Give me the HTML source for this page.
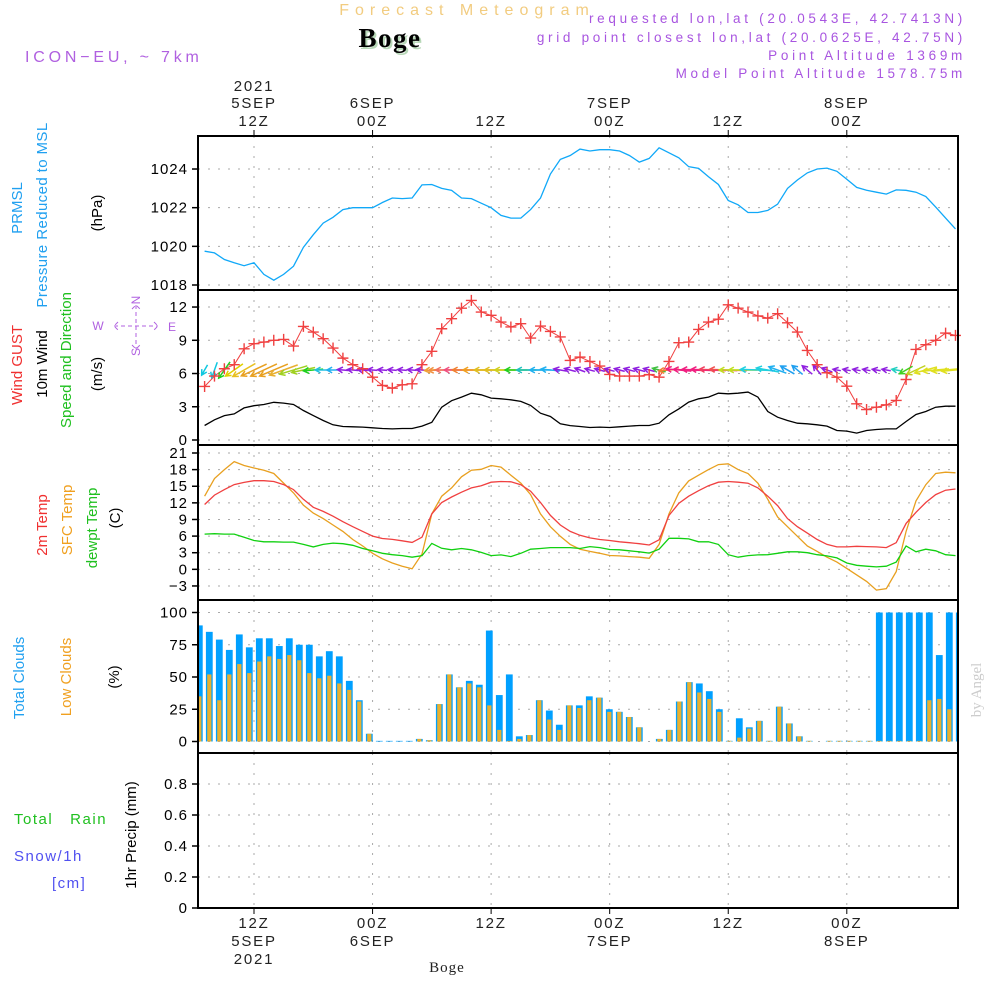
<!DOCTYPE html>
<html><head><meta charset="utf-8"><style>
html,body{margin:0;padding:0;background:#fff;width:1000px;height:1000px;overflow:hidden}
svg{display:block;font-family:"Liberation Sans",sans-serif}
</style></head><body>
<svg id="chart" width="1000" height="1000" viewBox="0 0 1000 1000" xmlns="http://www.w3.org/2000/svg">
<defs><clipPath id="plotclip"><rect x="198" y="290" width="760" height="155"/></clipPath></defs>
<text x="467" y="15" font-size="16" fill="#f2cc80" text-anchor="middle" letter-spacing="6">Forecast Meteogram</text>
<text x="392" y="49" font-family="Liberation Serif,serif" font-weight="bold" font-size="27" fill="#b8d8b8" text-anchor="middle" letter-spacing="1.5">Boge</text>
<text x="390" y="47" font-family="Liberation Serif,serif" font-weight="bold" font-size="27" fill="#000" text-anchor="middle" letter-spacing="1.5">Boge</text>
<text x="25" y="62" font-size="16" fill="#b060e0" letter-spacing="3.8">ICON−EU, ~ 7km</text>
<g font-size="13.5" fill="#a855e0" text-anchor="end" letter-spacing="3.7">
<text x="966" y="23">requested lon,lat (20.0543E, 42.7413N)</text>
<text x="966" y="42">grid point closest lon,lat (20.0625E, 42.75N)</text>
<text x="966" y="60">Point Altitude 1369m</text>
<text x="966" y="78">Model Point Altitude 1578.75m</text>
</g>
<g font-size="15">
<text transform="translate(22,208) rotate(-90)" text-anchor="middle" fill="#20a0f0">PRMSL</text>
<text transform="translate(47,215) rotate(-90)" text-anchor="middle" fill="#20a0f0" letter-spacing="0.4">Pressure Reduced to MSL</text>
<text transform="translate(102,213) rotate(-90)" text-anchor="middle" fill="#000">(hPa)</text>
<text transform="translate(22,365) rotate(-90)" text-anchor="middle" fill="#f03030">Wind GUST</text>
<text transform="translate(47,364) rotate(-90)" text-anchor="middle" fill="#000">10m Wind</text>
<text transform="translate(71,360) rotate(-90)" text-anchor="middle" fill="#20c020">Speed and Direction</text>
<text transform="translate(102,374) rotate(-90)" text-anchor="middle" fill="#000">(m/s)</text>
<text transform="translate(47,525) rotate(-90)" text-anchor="middle" fill="#f03030">2m Temp</text>
<text transform="translate(72,520) rotate(-90)" text-anchor="middle" fill="#f0a020">SFC Temp</text>
<text transform="translate(97,528) rotate(-90)" text-anchor="middle" fill="#20c020">dewpt Temp</text>
<text transform="translate(120,518) rotate(-90)" text-anchor="middle" fill="#000">(C)</text>
<text transform="translate(24,678) rotate(-90)" text-anchor="middle" fill="#20a0f0">Total Clouds</text>
<text transform="translate(71,677) rotate(-90)" text-anchor="middle" fill="#f0a020">Low Clouds</text>
<text transform="translate(119,677) rotate(-90)" text-anchor="middle" fill="#000">(%)</text>
<text transform="translate(136,835) rotate(-90)" text-anchor="middle" fill="#000">1hr Precip (mm)</text>
<text x="14" y="824" fill="#20c020" letter-spacing="1.5">Total&#160;&#160;&#160;Rain</text>
<text x="14" y="861" fill="#5050f0" letter-spacing="1.5">Snow/1h</text>
<text x="52" y="888" fill="#5050f0" letter-spacing="1.5">[cm]</text>
</g>
<g fill="#b060e0" font-size="12" text-anchor="middle">
<text transform="translate(140,300) rotate(-90)">N</text><text transform="translate(140,352) rotate(-90)">S</text><text x="98" y="330">W</text><text x="172" y="331">E</text>
<path d="M136 305V349M114 326H158M118 322L114 326L118 330M154 322L158 326L154 330M132 309L136 305L140 309M132 345L136 349L140 345" stroke="#b060e0" stroke-dasharray="4 3" fill="none"/>
</g>
<text transform="translate(981,690) rotate(-90)" text-anchor="middle" font-family="Liberation Serif,serif" font-size="15" fill="#ccc">by Angel</text>
<text x="447" y="972" text-anchor="middle" font-family="Liberation Serif,serif" font-size="15" fill="#222" letter-spacing="1">Boge</text>
<g id="plot"></g>
</svg>
<script>
// ---------- data ----------
const hours = [];for(let h=7;h<=83;h++)hours.push(h);
const pressure=[1019.75,1019.66,1019.32,1019.15,1019.0,1019.15,1018.55,1018.25,1018.55,1018.97,1019.95,1020.6,1021.2,1021.5,1021.9,1022.0,1022.0,1022.0,1022.27,1022.5,1022.47,1022.5,1023.18,1023.2,1023.0,1022.9,1022.5,1022.47,1022.23,1022.0,1021.6,1021.46,1021.46,1021.9,1022.5,1023.74,1024.5,1024.7,1025.03,1024.93,1025.0,1025.0,1024.93,1024.7,1024.36,1024.55,1025.1,1024.84,1024.58,1024.12,1024.03,1023.6,1023.2,1022.37,1022.15,1021.75,1021.75,1021.86,1022.18,1023.0,1023.43,1023.8,1024.0,1024.05,1023.88,1023.47,1023.05,1022.9,1022.8,1022.7,1022.92,1022.9,1022.8,1022.58,1022.03,1021.46,1020.9];
const gust=[4.83,5.77,6.43,6.8,8.23,8.69,8.84,9.0,9.08,8.48,10.25,9.74,9.14,8.3,7.39,6.8,6.43,5.67,4.92,4.68,4.98,5.07,6.8,8.0,10.04,10.95,11.9,12.6,11.55,11.25,10.64,10.2,10.5,9.2,10.28,9.8,9.3,7.18,7.48,7.09,6.67,5.92,5.77,5.77,5.77,5.9,5.67,7.09,8.78,8.84,9.98,10.64,10.9,12.2,11.9,11.55,11.2,11.0,11.4,10.58,9.74,8.08,6.8,6.07,5.67,4.86,3.27,2.75,2.96,3.17,3.57,5.46,8.17,8.6,9.0,9.65,9.44];
const wind10=[1.31,1.82,2.2,2.36,2.9,3.1,3.2,3.4,3.33,3.2,2.66,2.2,1.76,1.37,1.22,1.19,1.16,1.1,1.04,1.0,1.04,1.04,1.25,1.6,2.96,3.55,3.87,4.22,4.08,3.78,3.72,3.63,3.48,3.12,2.42,2.12,1.46,1.3,1.22,1.13,1.16,1.13,1.19,1.25,1.31,1.31,1.52,2.27,2.81,3.42,3.72,3.87,4.22,4.17,4.22,4.32,3.87,2.57,2.06,1.76,1.52,1.46,1.37,1.25,0.86,0.8,0.62,0.86,0.95,1.0,1.0,1.67,2.3,2.57,2.96,3.05,3.05];
const windDir=[240,250,235,215,210,205,205,203,200,197,192,185,180,180,175,175,175,175,175,175,175,175,175,185,182,180,180,180,180,180,180,180,180,180,180,175,170,165,160,165,165,165,165,165,165,165,165,185,175,178,178,178,178,178,180,180,178,170,160,150,140,140,130,160,170,170,170,170,170,170,170,210,205,195,185,185,185];
const windColor=["#10c8e0","#10c8e0","#20d020","#e0d000","#e8c020","#e8a020","#e8a020","#e8a020","#e8b030","#a0d020","#a0d020","#20d020","#20c0e0","#20b0f0","#9020e0","#9020e0","#9020e0","#9020e0","#9020e0","#9020e0","#9020e0","#9020e0","#9020e0","#f0a030","#f09040","#f07060","#f05080","#f08030","#f0a020","#e0c020","#e0c020","#d0d020","#20d020","#20c0c0","#20b0f0","#20b0f0","#9020e0","#9020e0","#9020e0","#9020e0","#9020e0","#9020e0","#9020e0","#9020e0","#9020e0","#9020e0","#40c040","#f08030","#f02080","#f02080","#f02080","#f02080","#f04060","#f05050","#c0e020","#c0e020","#20d0e0","#20d0e0","#20b0f0","#20a0f0","#20a0f0","#9020e0","#9020e0","#9020e0","#9020e0","#9020e0","#9020e0","#9020e0","#9020e0","#9020e0","#20d0c0","#40d020","#c0d020","#e0e020","#e0e020","#e0e020","#e0e020"];
const temp2m=[11.7,13.4,14.4,15.3,15.7,16.0,16.0,15.85,15.3,14.4,12.65,11.2,10.45,9.6,8.6,7.7,6.85,6.0,5.56,5.4,5.15,4.86,5.8,10.0,12.07,13.06,13.93,14.7,15.1,15.73,15.85,15.8,15.27,14.1,12.07,9.74,8.0,6.84,6.14,5.67,5.38,5.2,4.98,4.8,4.63,4.4,5.33,9.74,11.9,13.2,14.2,15.1,15.73,15.85,15.73,15.55,14.7,13.2,11.5,9.16,7.7,6.55,5.38,4.5,4.05,4.05,4.16,4.1,4.05,3.93,4.8,8.3,10.3,12.07,13.5,14.28,14.5];
const tempSfc=[13.2,16.4,18.0,19.45,18.75,18.3,17.9,17.3,15.56,13.8,11.6,10.15,9.16,8.0,6.84,5.38,4.22,2.9,1.9,1.14,0.56,0.1,2.77,10.0,13.2,14.7,16.7,17.9,18.05,18.75,18.46,17.0,15.56,13.5,10.0,7.7,5.96,4.5,3.64,3.23,2.9,2.5,2.42,2.3,2.2,2.0,4.5,10.0,13.8,15.96,17.0,18.0,18.9,19.05,18.0,17.3,15.56,12.65,9.45,7.7,5.96,4.22,3.23,2.2,1.3,0.17,-1.0,-2.17,-3.74,-3.5,-0.4,6.84,12.36,15.27,17.3,17.53,17.42];
const dewpt=[6.37,6.43,6.37,6.37,5.8,5.2,4.98,4.98,4.92,4.92,4.5,4.05,4.5,4.74,4.63,4.34,3.76,3.35,2.9,2.65,2.48,2.2,2.48,4.69,3.8,3.52,3.76,3.52,3.06,2.48,2.6,2.3,2.9,3.64,3.76,3.93,3.93,3.93,3.76,4.1,3.93,3.58,3.52,3.35,3.17,2.94,3.64,5.6,5.6,5.5,4.98,4.98,4.5,2.65,2.2,2.48,2.6,2.65,2.9,3.17,3.17,3.0,2.65,2.42,2.07,1.14,0.73,0.56,0.44,0.56,1.3,4.22,3.17,3.64,3.35,2.65,2.48];
const totalClouds=[90,85,79,71,83,73,80,80,74,80,75,75,66,70,66,47,32,6,0.5,0.5,0.5,0.5,2,1,29,52,42,47,44,86,36,52,4,5,32,24,13,28,28,35,34,25,23,19,11,0,2,9,31,46,45,39,25,0.5,18,11,16,0.5,27,14,4,0.5,0,0.5,0.5,0.5,0.5,0.5,100,100,100,100,100,100,67,100,100];
const lowClouds=[35,52,32,52,60,53,62,66,64,67,63,53,49,51,45,40,31,6,0,0,0,0,2,1,29,52,42,45,42,28,9,0.5,2,5,32,17,9,28,26,32,34,23,23,19,11,0,2,9,31,46,38,33,23,0.5,3,10,16,0.5,27,14,4,0.5,0,0.5,0.5,0.5,0.5,0.5,0.5,0.5,0.5,0.5,0.5,32,33,25,14];
const pTicks=[1018,1020,1022,1024], wTicks=[0,3,6,9,12], tTicks=[-3,0,3,6,9,12,15,18,21], cTicks=[0,25,50,75,100], rTicks=[0,0.2,0.4,0.6,0.8];
const timeTicks=[12,24,36,48,60,72];
const dayLabels=["5SEP","6SEP","","7SEP","","8SEP"];
const hourLabels=["12Z","00Z","12Z","00Z","12Z","00Z"];
// ---------- scales ----------
const L=198,R=958;
const xH=h=>254+(h-12)*9.88;
const xBar=i=>199.3+10*i;
const yP=v=>285-(v-1018)*19.33;
const yW=v=>440-v*11.08;
const yT=v=>453+(21-v)*5.54;
const yC=v=>741.5-v*1.29;
const yR=v=>908-v*155;
const NS="http://www.w3.org/2000/svg";
const plot=document.getElementById('plot');
function mk(tag,attrs,parent){const e=document.createElementNS(NS,tag);for(const k in attrs)e.setAttribute(k,attrs[k]);(parent||plot).appendChild(e);return e;}
const panels=[[136,290,"pressure"],[290,445,"wind"],[445,600,"temperature"],[600,753,"clouds"],[753,908,"precip"]];
function grid(name,ticks,yf,top,bot,fmt){
  const g=mk('g',{});
  
  
  ticks.forEach(v=>{const y=yf(v);
    if(y>top+1&&y<bot-1){const gl=mk('line',{x1:L,x2:R,y1:y,y2:y,stroke:'#aaa','stroke-dasharray':'2 8'},g);
      
      }
    mk('line',{x1:L-6,x2:L,y1:y,y2:y,stroke:'#000','stroke-width':1.5},g);
    const t=mk('text',{x:L-10,y:y+5,'text-anchor':'end','font-size':15,fill:'#000','letter-spacing':1},g);
    
    
    t.textContent=fmt?fmt(v):String(v).replace('-','−');});
  timeTicks.forEach(h=>{const vl=mk('line',{x1:xH(h),x2:xH(h),y1:top,y2:bot,stroke:'#aaa','stroke-dasharray':'2 8'},g);
    
    });
}
grid('pressure',pTicks,yP,136,290);
grid('wind',wTicks,yW,290,445);
grid('temperature',tTicks,yT,445,600);
grid('clouds',cTicks,yC,600,753);
grid('precip',rTicks,yR,753,908,v=>v===0?'0':v.toFixed(1));
function line(arr,yf,color,name,w){const d=arr.map((v,i)=>(i?'L':'M')+xH(hours[i]).toFixed(1)+' '+yf(v).toFixed(1)).join('');
  const p=mk('path',{d:d,fill:'none',stroke:color,'stroke-width':w||1.3});
  
  }
// clouds
const cg=mk('g',{});


totalClouds.forEach((v,i)=>{const x=xBar(i);const x0=Math.max(L,x-3.4),x1=Math.min(R,x+3.4);if(x1<=x0)return;
  const b=mk('rect',{x:x0,y:yC(v),width:x1-x0,height:yC(0)-yC(v),fill:'#00a0ff'},cg);
  
  });
lowClouds.forEach((v,i)=>{const x=xBar(i);const x0=Math.max(L,x-2.1),x1=Math.min(R,x+2.1);if(x1<=x0)return;
  const b=mk('rect',{x:x0,y:yC(v),width:x1-x0,height:yC(0)-yC(v),fill:'#e8b030'},cg);
  
  });
line(pressure,yP,'#10a8f8','pressure-line');
line(wind10,yW,'#000','wind10-line');
line(gust,yW,'#f04040','gust-line',1);
// wind arrows
const ag=mk('g',{'clip-path':'url(#plotclip)'});


windDir.forEach((a,i)=>{const len=Math.max(8,wind10[i]*9);const r=a*Math.PI/180;const dx=Math.cos(r),dy=-Math.sin(r);
  const cx=xH(hours[i]),cy=370;const hx=cx+dx*len/2,hy=cy+dy*len/2,tx=cx-dx*len/2,ty=cy-dy*len/2;
  const ax=-dx,ay=-dy;const s=6,c=Math.cos(0.5),sn=Math.sin(0.5);
  const p1x=hx+s*(ax*c-ay*sn),p1y=hy+s*(ax*sn+ay*c),p2x=hx+s*(ax*c+ay*sn),p2y=hy+s*(-ax*sn+ay*c);
  const ar=mk('path',{d:`M${tx} ${ty}L${hx} ${hy}M${p1x} ${p1y}L${hx} ${hy}L${p2x} ${p2y}`,stroke:windColor[i],'stroke-width':1.5,fill:'none'},ag);
  
  });
// gust crosses
gust.forEach((v,i)=>{const x=xH(hours[i]),y=yW(v);
  const c=mk('path',{d:`M${x-5.5} ${y}H${x+5.5}M${x} ${y-5.5}V${y+5.5}`,stroke:'#f04040','stroke-width':1.4});
  
  });
line(tempSfc,yT,'#e8a020','sfc-temp-line');
line(temp2m,yT,'#f04040','temp2m-line');
line(dewpt,yT,'#10d010','dewpoint-line');
// panel frames
panels.forEach(p=>{const r=mk('rect',{x:L,y:p[0],width:R-L,height:p[1]-p[0],fill:'none',stroke:'#000','stroke-width':2});
  
  });
// time labels
const TS={'text-anchor':'middle','font-size':15,fill:'#222','letter-spacing':1.8};
timeTicks.forEach((h,i)=>{const x=xH(h);
  mk('line',{x1:x,x2:x,y1:130,y2:136,stroke:'#000'});
  mk('line',{x1:x,x2:x,y1:908,y2:914,stroke:'#000'});
  const t1=mk('text',Object.assign({x:x,y:126},TS));
  
  
  t1.textContent=hourLabels[i];
  const t2=mk('text',Object.assign({x:x,y:928},TS));
  
  
  t2.textContent=hourLabels[i];
  if(dayLabels[i]){
    const d1=mk('text',Object.assign({x:x,y:108},TS));
    
    
    d1.textContent=dayLabels[i];
    const d2=mk('text',Object.assign({x:x,y:946},TS));
    
    
    d2.textContent=dayLabels[i];}
  if(i===0){
    const y1=mk('text',Object.assign({x:x,y:91},TS));
    
    
    y1.textContent='2021';
    const y2=mk('text',Object.assign({x:x,y:964},TS));
    
    
    y2.textContent='2021';}
});
</script>
</body></html>
